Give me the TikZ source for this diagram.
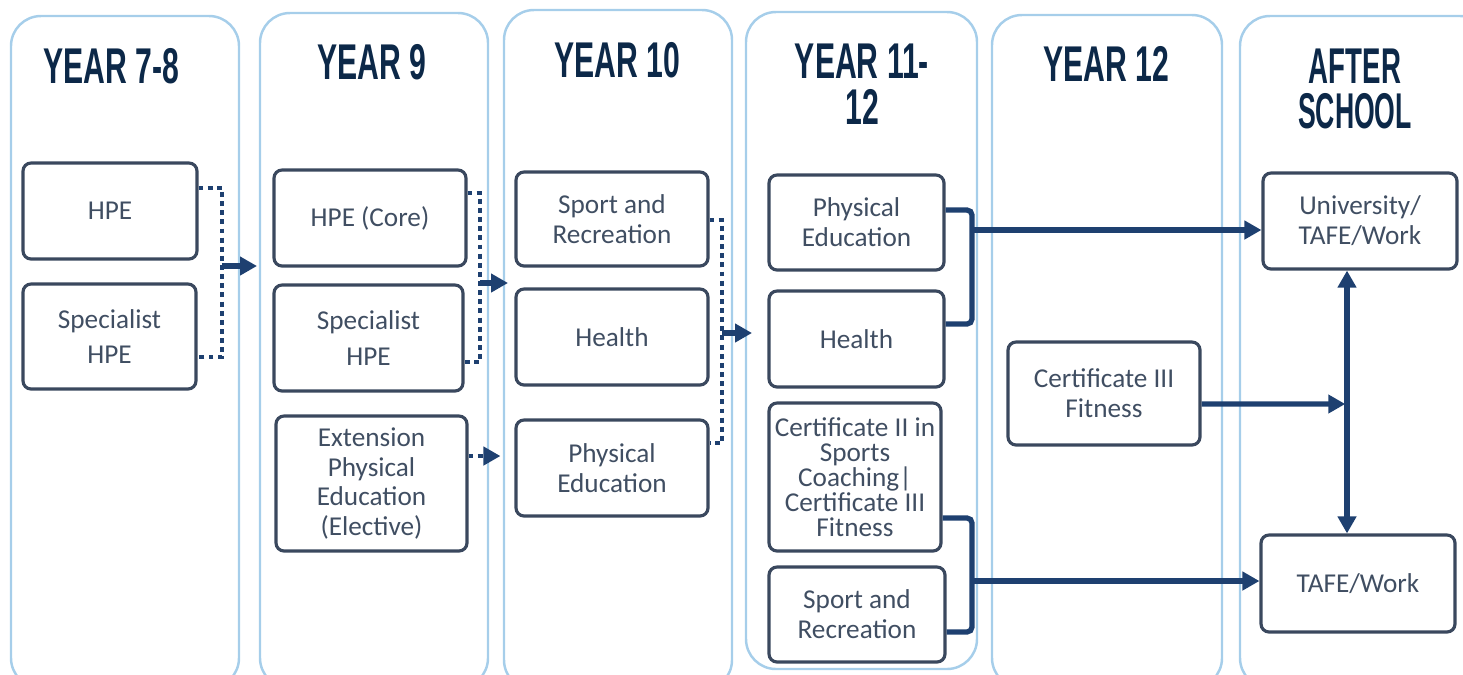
\documentclass[tikz,border=0pt]{standalone}
\usepackage{fontspec}
\setmainfont{Carlito}
\newfontfamily\headfont{Liberation Sans}
\usetikzlibrary{arrows.meta}

\definecolor{bandblue}{RGB}{166,206,234}
\definecolor{boxgrey}{RGB}{58,72,94}
\definecolor{boxtext}{RGB}{64,78,98}
\definecolor{linknavy}{RGB}{30,64,112}
\definecolor{headnavy}{RGB}{12,40,72}

\newcommand\squeeze[2][0.6]{\scalebox{#1}[1]{#2}}

\tikzset{
	band/.style = {draw=bandblue, line width=1.4pt, rounded corners=6mm},
	yearhead/.style = {text=headnavy, align=center, inner sep=0pt, font=\headfont\bfseries\fontsize{28.6}{26}\selectfont},
	stage/.style = {draw=boxgrey, line width=1.8pt, rounded corners=1.6mm, text=boxtext, align=center, inner sep=0pt, font=\fontsize{15.5}{17}\selectfont},
	widestage/.style = {stage, font=\fontsize{15.5}{20.4}\selectfont},
	tightstage/.style = {stage, font=\fontsize{15.5}{14.2}\selectfont},
	dotlink/.style = {draw=linknavy, line width=2.8pt, dash pattern=on 2.8pt off 2.4pt},
	link/.style = {draw=linknavy, line width=3pt},
	arrowlink/.style = {link, -{Triangle[length=3.4mm, width=3.6mm]}},
	dotarrow/.style = {dotlink, -{Triangle[length=3.4mm, width=3.6mm]}}
}

\begin{document}
\begin{tikzpicture}[x=0.02cm, y=-0.02cm]
	\useasboundingbox (0,0) rectangle (1463,674);
	\clip (0,0) rectangle (1463,674);

	% year columns
	\draw[band] (11,16) rectangle (239,688);
	\draw[band] (260,13) rectangle (488,688);
	\draw[band] (504,10) rectangle (732,690);
	\draw[band] (746,12) rectangle (977,669);
	\draw[band] (992,15) rectangle (1222,688);
	\draw[band] (1240,16) rectangle (1490,688);

	\node[yearhead] (h78) at (111,66) {\squeeze{YEAR 7-8}};
	\node[yearhead] (h9) at (372,62.5) {\squeeze{YEAR 9}};
	\node[yearhead] (h10) at (617,60) {\squeeze{YEAR 10}};
	\node[yearhead] (h1112) at (862,84) {\squeeze{YEAR 11-}\\\squeeze{12}};
	\node[yearhead] (h12) at (1106,64) {\squeeze{YEAR 12}};
	\node[yearhead] (hafter) at (1355,89) {\squeeze[0.55]{AFTER}\\\squeeze[0.53]{SCHOOL}};

	% subjects
	\node[stage, minimum width=34.8mm, minimum height=19.2mm] (hpeA) at (110,211) {HPE};
	\node[widestage, minimum width=34.6mm, minimum height=21mm] (specA) at (109.5,336.5) {Specialist\\HPE};

	\node[stage, minimum width=38.4mm, minimum height=19.2mm] (core) at (370,218) {HPE (Core)};
	\node[widestage, minimum width=37.8mm, minimum height=21.2mm] (specB) at (368.5,338) {Specialist\\HPE};
	\node[stage, minimum width=38.2mm, minimum height=27mm] (ext) at (371.5,483.5) {Extension\\Physical\\Education\\(Elective)};

	\node[stage, minimum width=38.4mm, minimum height=18.8mm] (sportA) at (612,219) {Sport and\\Recreation};
	\node[stage, minimum width=38.4mm, minimum height=19.2mm] (healthA) at (612,337) {Health};
	\node[stage, minimum width=38.4mm, minimum height=19.2mm] (peA) at (612,468) {Physical\\Education};

	\node[stage, minimum width=35mm, minimum height=19mm] (peB) at (856.5,222.5) {Physical\\Education};
	\node[stage, minimum width=35mm, minimum height=19.2mm] (healthB) at (856.5,339) {Health};
	\node[tightstage, minimum width=34.4mm, minimum height=29.6mm] (cert) at (855,477) {Certificate II in\\Sports\\Coaching|\\Certificate III\\Fitness};
	\node[stage, minimum width=35.2mm, minimum height=19mm] (sportB) at (857,614.5) {Sport and\\Recreation};

	\node[stage, minimum width=38.4mm, minimum height=20.6mm] (certC) at (1104,393.5) {Certificate III\\Fitness};

	\node[stage, minimum width=38.8mm, minimum height=19.2mm] (uni) at (1360,221) {University/\\TAFE/Work};
	\node[stage, minimum width=38.8mm, minimum height=19.4mm] (tafe) at (1358,583.5) {TAFE/Work};

	% pathways
	\coordinate (hubA) at (222,266);
	\coordinate (inB) at (257,266);
	\draw[dotlink] ([yshift=4.6mm]hpeA.east) -| (hubA) |- ([yshift=-4.1mm]specA.east);
	\draw[arrowlink] (hubA) -- (inB);

	\coordinate (hubB) at (480,283);
	\coordinate (inC) at (508,283);
	\draw[dotlink] ([yshift=5mm]core.east) -| (hubB) |- ([yshift=-4.8mm]specB.east);
	\draw[arrowlink] (hubB) -- (inC);

	\coordinate (extout) at ([yshift=5.5mm]ext.east);
	\draw[dotarrow, shorten >=2.8mm] (extout) -- (extout -| peA.west);

	\coordinate (hubC) at (722,333);
	\coordinate (inD) at (752,333);
	\draw[dotlink] ([yshift=-0.2mm]sportA.east) -| (hubC) |- ([yshift=5mm]peA.east);
	\draw[arrowlink] (hubC) -- (inD);

	\coordinate (hubD) at (972,230);
	\draw[link, rounded corners=1mm] ([yshift=2.5mm]peB.east) -| (hubD) |- ([yshift=3mm]healthB.east);
	\draw[arrowlink] (hubD) -- (hubD -| uni.west);

	\coordinate (hubE) at (972,581);
	\draw[link, rounded corners=1mm] ([yshift=-8.2mm]cert.east) -| (hubE) |- ([yshift=-3.5mm]sportB.east);
	\draw[arrowlink] (hubE) -- (hubE -| tafe.west);

	\coordinate (join) at (1347,404);
	\draw[arrowlink, shorten >=1pt] ([yshift=-2.1mm]certC.east) -- (join);
	\draw[arrowlink] (join) -- (join |- uni.south);
	\draw[arrowlink] (join) -- (join |- tafe.north);
\end{tikzpicture}
\end{document}
